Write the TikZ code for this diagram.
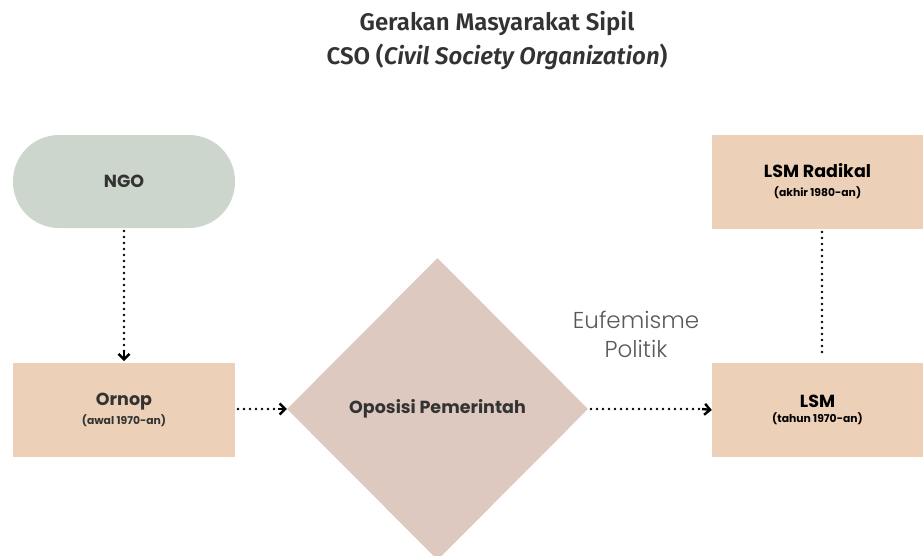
\documentclass[tikz,border=0pt]{standalone}
\usepackage{fontspec}
\setmainfont{Poppins}
\newfontfamily\titlefont{Fira Sans}[UprightFont={* SemiBold},ItalicFont={* SemiBold Italic}]
\newfontfamily\lightfont{Poppins}[UprightFont={* Light}]
\usetikzlibrary{arrows.meta,shapes.geometric}
\definecolor{ngoc}{HTML}{CCD6CC}
\definecolor{peach}{HTML}{EDD0B8}
\definecolor{diam}{HTML}{DDC9BF}
\definecolor{txt}{HTML}{333333}
\tikzset{
  box/.style={fill=peach, minimum width=222pt, minimum height=94pt, inner sep=0pt, align=center, text=txt, font=\bfseries\fontsize{10.8}{19}\selectfont},
  dotline/.style={line width=2.6pt, line cap=round, dash pattern=on 0pt off 6pt, black},
  tip/.style={-{Straight Barb[length=5.5pt,width=11pt,line width=2.4pt]}},
  main/.style={font=\bfseries\fontsize{17.5}{20}\selectfont},
}
\newcommand{\mtxt}[1]{{\bfseries\fontsize{17.5}{19}\selectfont #1}}
\begin{document}
\begin{tikzpicture}[x=1pt,y=-1pt]
\useasboundingbox (0,0) rectangle (923,555);
\begin{scope}
\clip (0,0) rectangle (923,555);
\node[diamond, fill=diam, minimum width=301pt, minimum height=302pt, inner sep=0pt, text=txt] (opo) at (437.5,409) {};
\end{scope}
\node[text=txt, main] at (opo.center) {Oposisi Pemerintah};
\node[fill=ngoc, rounded corners=46pt, minimum width=222pt, minimum height=93pt, inner sep=0pt, text=txt, main] (ngo) at (124,181.5) {NGO};
\node[box] (ornop) at (124,410) {\mtxt{Ornop}\\(awal 1970-an)};
\node[box, minimum width=211pt, text=black] (rad) at (817.5,181.5) {\mtxt{LSM Radikal}\\(akhir 1980-an)};
\node[box, minimum width=211pt, text=black] (lsm) at (817.5,410) {\mtxt{LSM}\\[-4pt](tahun 1970-an)};
\node[text=txt, align=center, font=\titlefont\fontsize{24}{34}\selectfont] (title) at (497,41) {Gerakan Masyarakat Sipil\\CSO ({\itshape Civil Society Organization})};
\node[text=black!65, align=center, font=\lightfont\fontsize{23}{29}\selectfont] (euf) at (636,334) {Eufemisme\\Politik};
\coordinate (a1) at (124,231);
\coordinate (b1) at (124,361);
\draw[dotline] (a1) -- (124,354);
\draw[tip, line width=2.4pt] (124,350) -- (b1);
\coordinate (a2) at (238,409);
\draw[dotline] (a2) -- (276,409);
\draw[tip, line width=2.4pt] (278,409) -- (opo.west);
\coordinate (a3) at (591,409);
\draw[dotline] (a3) -- (700,409);
\draw[tip, line width=2.4pt] (702,409) -- (lsm.west);
\coordinate (r1) at (822,232);
\coordinate (r2) at (822,357);
\draw[dotline] (r1) -- (r2);
\end{tikzpicture}
\end{document}
